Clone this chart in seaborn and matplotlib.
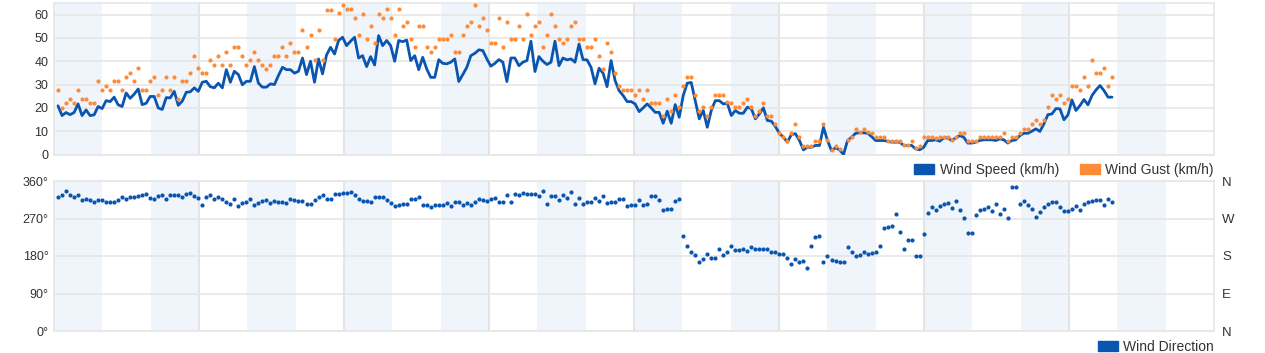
import numpy as np
import pandas as pd
import matplotlib
matplotlib.use("Agg")
import matplotlib.pyplot as plt
from matplotlib.patches import Patch
import seaborn as sns

# readings every ~40 min over the week shown
speed = [
    20.9, 16.7, 18, 17.1, 18, 21.7, 16.7, 19.1, 16.7, 17, 20.6, 19.7, 23.1, 22.7, 24.6, 21.3,
    20.6, 26.4, 24.1, 25.9, 28.1, 21.4, 22, 24.9, 24.9, 20, 19.3, 24.4, 24.3, 27.1, 21.1, 22.9,
    26.7, 26.9, 28.6, 27.1, 31, 31.4, 29.1, 28.6, 30.6, 28.6, 36.4, 31, 35.7, 34.3, 29.9, 31.4,
    31.4, 37.7, 30.6, 28.9, 28.9, 30.3, 30, 33.9, 37.4, 36.4, 36.4, 34.9, 35.7, 41.4, 34.3, 40,
    31, 41, 34.6, 42.7, 46, 43.1, 48.9, 50.3, 46.7, 48.6, 50.3, 41.4, 42.4, 37.7, 42, 38.4,
    51, 46.7, 48.9, 46.7, 40, 48.9, 48.4, 49.1, 40.3, 42.4, 36.4, 41.7, 36.7, 33.1, 33.1, 40.7,
    39.1, 38.9, 39.6, 41, 31.3, 34.3, 37.4, 42.4, 43.4, 44.9, 44.6, 41, 37.9, 39.1, 40.7, 39.6,
    31.3, 41.4, 41.4, 38.1, 39.6, 40.3, 48.6, 35.6, 42, 40, 38.6, 39.6, 48.6, 38.1, 41.4, 40.6,
    41, 39.6, 47.4, 40.7, 40.6, 37.4, 30.3, 37, 34.9, 29.1, 40.3, 31.7, 27.4, 25.3, 22.7, 22.7,
    21.7, 18.4, 20, 21.7, 20, 18.1, 18.1, 13.4, 18.6, 13.4, 21.4, 16, 25.3, 30.6, 30.9, 23.1,
    15.3, 18.9, 11.7, 18.9, 23.1, 23.1, 21.7, 22, 16.7, 18.9, 17.7, 17.7, 20.3, 19.6, 15.3, 17.4,
    20, 14.6, 14.3, 12, 9.1, 7.4, 5.3, 8.6, 8.9, 6, 2, 3.1, 3.1, 3.9, 3.9, 11.7,
    6, 1.7, 2.9, 2, 0, 6, 7.4, 9.1, 9.3, 9.3, 9.1, 7.7, 6, 6, 6, 5.7,
    5.3, 5.3, 5.3, 3.9, 3.9, 3.9, 2.4, 2, 3.1, 6, 6, 6.3, 5.7, 7.1, 7.1, 6,
    7.1, 8.1, 7.4, 4.9, 4.9, 5.3, 6, 6.3, 6.3, 6.3, 6, 6.7, 6.3, 4.9, 6, 6.3,
    8.1, 9.1, 9.1, 10, 11, 9.9, 13.1, 17.1, 17.4, 19.7, 19.6, 14.9, 17, 23.4, 18.9, 21,
    23.6, 21.3, 25.3, 27.7, 29.6, 27.4, 24.6, 24.6,
]
gust = [
    27.7, 20.1, 22, 23.9, 22, 27.7, 23.9, 23.9, 22, 22, 31.4, 27.7, 29.6, 27.7, 31.4, 31.4,
    27.7, 33.3, 35.1, 31.4, 36.9, 27.7, 27.7, 31.4, 33.3, 25.7, 27.7, 33.3, 27.7, 33.3, 23.9, 31.4,
    31.4, 35.1, 42.3, 36.9, 35.1, 35.1, 40.4, 38.6, 42.3, 38.6, 44, 38.6, 46, 46, 42.3, 38.6,
    40.6, 43.9, 40.6, 38.6, 36.7, 38.6, 42.3, 42.3, 46, 42.3, 47.9, 44, 44, 53.3, 46, 51.4,
    40.4, 53.3, 40.4, 62.1, 62.1, 49.6, 60.6, 64.3, 62.3, 62.3, 58.7, 51.4, 60.4, 49.6, 55, 47.9,
    60.4, 58.6, 62.3, 58.6, 51.4, 62.3, 55, 56.9, 49.6, 46, 55, 55, 46, 44, 46, 49.6,
    49.6, 49.7, 51.4, 44, 44, 51.4, 55, 56.9, 64.3, 55, 58.7, 53.3, 47.9, 47.9, 58.7, 46,
    56.9, 49.6, 49.6, 55, 49.6, 60.4, 51.4, 55, 56.9, 46, 51.4, 60.4, 55, 49.6, 47.9, 49.6,
    55, 56.9, 49.6, 49.6, 46, 46, 49.6, 42.3, 36.7, 47.9, 43.9, 35, 29.6, 27.7, 27.7, 27.7,
    25.7, 27.7, 23.9, 27.7, 22, 22, 22, 16.7, 23.9, 18.6, 25.7, 20.3, 29.6, 33.4, 33.4, 25.7,
    18.6, 20.3, 16.7, 20.3, 25.7, 25.7, 25.7, 22.5, 22, 20.3, 20.3, 22, 23.9, 20.3, 16.7, 18.6,
    22, 16.7, 16.7, 13.1, 9.3, 7.6, 5.6, 9.3, 13.1, 7.4, 3.6, 3.6, 3.6, 5.6, 5.6, 13.1,
    6.3, 1.9, 3.6, 2.3, np.nan, 6.3, 7.6, 11.1, 9.6, 11.1, 9.6, 9.3, 7.4, 7.4, 7.4, 6,
    5.6, 5.6, 5.6, 4.1, 4.1, 5.6, 2.6, 3.6, 7.4, 7.4, 7.4, 7, 7.4, 7.4, 7.4, 6.3,
    7.4, 9.3, 9.3, 5.6, 5.6, 5.6, 7.4, 7.4, 7.4, 7.4, 7.4, 7.4, 9.3, 5.6, 7.4, 7.4,
    9.3, 11.1, 11.1, 13.1, 15, 13.1, 15, 20.3, 25.7, 23.9, 25.7, 22, 23.9, 29.6, 29.6, 27.7,
    33.3, 29.6, 40.6, 35.1, 35.1, 36.9, 29.6, 33.3,
]
direction = [
    322, 326, 337, 326, 322, 326, 314, 318, 315, 309, 314, 314, 310, 310, 310, 314,
    322, 316, 322, 322, 324, 327, 330, 320, 316, 323, 326, 317, 327, 327, 327, 322,
    330, 332, 325, 320, 303, 322, 326, 316, 322, 317, 309, 304, 318, 299, 308, 310,
    317, 302, 308, 311, 314, 307, 313, 310, 310, 308, 318, 314, 312, 311, 305, 305,
    314, 321, 326, 318, 317, 330, 329, 332, 332, 334, 326, 318, 312, 311, 309, 322,
    322, 322, 314, 307, 299, 302, 306, 305, 316, 318, 321, 302, 302, 298, 302, 302,
    302, 308, 299, 310, 310, 302, 308, 302, 309, 318, 314, 311, 316, 319, 310, 310,
    326, 310, 330, 326, 332, 330, 328, 329, 324, 336, 306, 325, 324, 315, 326, 319,
    334, 306, 319, 306, 310, 310, 319, 311, 324, 308, 309, 310, 318, 318, 300, 302,
    302, 314, 302, 305, 324, 324, 314, 290, 293, 294, 313, 318, 229, 204, 190, 183,
    165, 173, 185, 176, 176, 196, 183, 189, 204, 195, 194, 197, 193, 202, 196, 198,
    196, 198, 189, 189, 184, 186, 176, 162, 172, 166, 169, 151, 205, 226, 229, 166,
    181, 170, 167, 165, 165, 202, 189, 181, 182, 190, 186, 188, 190, 205, 248, 250,
    253, 280, 238, 197, 218, 218, 180, 180, 234, 284, 298, 291, 300, 306, 307, 296,
    311, 290, 272, 236, 236, 279, 291, 294, 298, 289, 306, 280, 292, 272, 346, 346,
    305, 311, 302, 292, 274, 286, 298, 304, 310, 310, 298, 288, 287, 293, 299, 290,
    305, 310, 311, 315, 314, 303, 318, 310,
]
degree_labels = ['0°', '90°', '180°', '270°', '360°']
compass_labels = ['N', 'E', 'S', 'W', 'N']

start = pd.Timestamp('2024-03-01')
times = pd.date_range(start + pd.Timedelta(minutes=40), periods=len(speed), freq='2388s')
df = pd.DataFrame({
    'hours': (times - start) / pd.Timedelta(hours=1),
    'speed': speed,
    'gust': gust,
    'direction': direction,
})

blue = '#0a55b0'
orange = '#fd8b38'
band = '#eff5fb'
grid = '#e6e6e6'
txt = '#333333'

sns.set_theme(style='white')
plt.rcParams['font.family'] = ['Liberation Sans', 'DejaVu Sans']

W, H = 1265, 353
fig = plt.figure(figsize=(W / 100, H / 100), dpi=100)
ax1 = fig.add_axes([54 / W, 1 - 154.5 / H, 1160 / W, 151.5 / H])
ax2 = fig.add_axes([54 / W, 1 - 331 / H, 1160 / W, 150 / H])


def style(ax, ymax, yticks, ylabels):
    # 8-hour shaded bands, one day between vertical grid lines
    for k in range(12):
        ax.axvspan(16 * k, 16 * k + 8, color=band, lw=0, zorder=0)
    ax.set_xlim(0, 192)
    ax.set_ylim(0, ymax)
    ax.set_xticks(range(24, 192, 24))
    ax.set_xticklabels([])
    ax.set_yticks(yticks)
    ax.set_yticklabels(ylabels)
    ax.grid(axis='y', color=grid, lw=1.2, zorder=1)
    ax.grid(axis='x', color='#e0e0e0', lw=1.2, zorder=1)
    ax.set_axisbelow(True)
    ax.tick_params(length=0, labelsize=9, labelcolor=txt, pad=4)
    for s in ax.spines.values():
        s.set_color(grid)
        s.set_linewidth(1.2)
    ax.set_xlabel('')
    ax.set_ylabel('')


sns.lineplot(data=df, x='hours', y='speed', ax=ax1, color=blue, lw=2, legend=False, zorder=3)
sns.scatterplot(data=df, x='hours', y='gust', ax=ax1, color=orange, s=9, linewidth=0, zorder=4, legend=False)
style(ax1, 65, range(0, 70, 10), [str(v) for v in range(0, 70, 10)])

sns.scatterplot(data=df, x='hours', y='direction', ax=ax2, color=blue, s=9, linewidth=0, zorder=4, legend=False)
style(ax2, 360, [0, 90, 180, 270, 360], degree_labels)

ax3 = ax2.twinx()
ax3.set_ylim(0, 360)
ax3.set_yticks([0, 90, 180, 270, 360])
ax3.set_yticklabels(compass_labels)
ax3.tick_params(length=0, labelsize=9.5, labelcolor=txt, pad=6)
for s in ax3.spines.values():
    s.set_visible(False)

leg_kw = dict(frameon=False, fontsize=10, handlelength=1.45, handleheight=0.75,
              handletextpad=0.4, columnspacing=1.5, borderpad=0, borderaxespad=0,
              labelcolor=txt, loc='center right')
fig.legend(handles=[Patch(color=blue, label='Wind Speed (km/h)'),
                    Patch(color=orange, label='Wind Gust (km/h)')],
           ncol=2, bbox_to_anchor=(1214 / W, 1 - 170 / H), **leg_kw)
fig.legend(handles=[Patch(color=blue, label='Wind Direction')],
           bbox_to_anchor=(1214 / W, 1 - 347 / H), **leg_kw)

fig.savefig('out.png', dpi=100)
